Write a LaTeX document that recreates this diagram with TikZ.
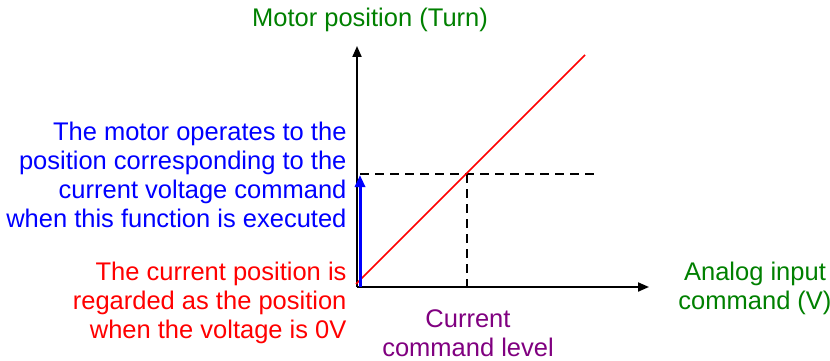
\documentclass[tikz,border=0pt]{standalone}
\usepackage{fontspec}
\setmainfont{Liberation Sans}
\usetikzlibrary{arrows.meta}
\definecolor{axisgreen}{RGB}{0,128,0}
\definecolor{levelpurple}{RGB}{128,0,128}
\begin{document}
\begin{tikzpicture}[x=1pt,y=-1pt,font=\fontsize{25.5}{29}\selectfont,
  axis/.style={line width=2pt,-{Triangle[length=11pt,width=9pt]}},
  guide/.style={line width=1.5pt,dash pattern=on 9pt off 6pt}]
  \useasboundingbox (0,0) rectangle (830,361);
  \coordinate (O) at (357,287);    % origin
  \coordinate (Y) at (357,46);     % top of position axis
  \coordinate (X) at (649,287);    % end of input axis
  \coordinate (P) at (467,174);    % current command point
  \coordinate (E) at (585,55);     % end of red line

  % Axes
  \draw[axis] (O) -- (Y);
  \draw[axis] (O) -- (X);

  % Guides
  \draw[guide] (360,174) -- (595,174);
  \draw[guide] (P) -- (467,287);

  % Characteristic
  \draw[red,line width=1.5pt] (356,284) -- (E);
  \draw[blue,line width=3pt,-{Triangle[length=12pt,width=10pt]}] (360,287) -- (360,175);

  % Labels
  \node[axisgreen] (ylab) at (370,20) {Motor position (Turn)};
  \node[axisgreen,align=center] (xlab) at (755,288) {Analog input\\command (V)};
  \node[levelpurple,align=center] (level) at (468,333) {Current\\command level};
  \node[blue,align=right,anchor=east] (move) at (350,175)
    {The motor operates to the\\position corresponding to the\\current voltage command\\when this function is executed};
  \node[red,align=right,anchor=east] (zero) at (350,303)
    {The current position is\\regarded as the position\\when the voltage is 0V};
\end{tikzpicture}
\end{document}
